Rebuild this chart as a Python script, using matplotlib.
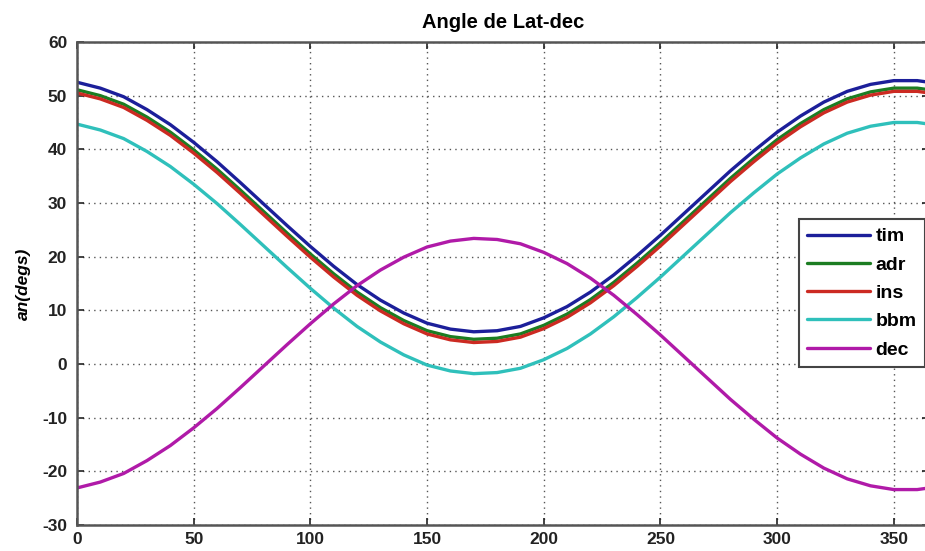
import matplotlib
matplotlib.use("Agg")
import matplotlib.pyplot as plt

# Day of year
days = [0, 10, 20, 30, 40, 50, 60, 70, 80, 90, 100, 110, 120, 130, 140, 150,
        160, 170, 180, 190, 200, 210, 220, 230, 240, 250, 260, 270, 280, 290,
        300, 310, 320, 330, 340, 350, 360, 365]

# Angles (degrees)
tim = [52.5, 51.4, 49.8, 47.4, 44.6, 41.3, 37.7, 33.8, 29.8, 25.8, 21.9, 18.2,
       14.8, 11.9, 9.5, 7.6, 6.5, 6.0, 6.2, 7.0, 8.6, 10.7, 13.4, 16.6, 20.2,
       24.0, 28.0, 32.0, 36.0, 39.7, 43.2, 46.2, 48.8, 50.8, 52.1, 52.8, 52.8, 52.5]
adr = [51.1, 50.0, 48.4, 46.0, 43.2, 39.9, 36.3, 32.4, 28.4, 24.4, 20.5, 16.8,
       13.4, 10.5, 8.1, 6.2, 5.1, 4.6, 4.8, 5.6, 7.2, 9.3, 12.0, 15.2, 18.8,
       22.6, 26.6, 30.6, 34.6, 38.3, 41.8, 44.8, 47.4, 49.4, 50.7, 51.4, 51.4, 51.1]
ins = [50.5, 49.4, 47.8, 45.4, 42.6, 39.3, 35.7, 31.8, 27.8, 23.8, 19.9, 16.2,
       12.8, 9.9, 7.5, 5.6, 4.5, 4.0, 4.2, 5.0, 6.6, 8.7, 11.4, 14.6, 18.2,
       22.0, 26.0, 30.0, 34.0, 37.7, 41.2, 44.2, 46.8, 48.8, 50.1, 50.8, 50.8, 50.5]
bbm = [44.7, 43.6, 42.0, 39.6, 36.8, 33.5, 29.9, 26.0, 22.0, 18.0, 14.1, 10.4,
       7.0, 4.1, 1.7, -0.2, -1.3, -1.8, -1.6, -0.8, 0.8, 2.9, 5.6, 8.8, 12.4,
       16.2, 20.2, 24.2, 28.2, 31.9, 35.4, 38.4, 41.0, 43.0, 44.3, 45.0, 45.0, 44.7]
dec = [-23.1, -22.0, -20.4, -18.0, -15.2, -11.9, -8.3, -4.4, -0.4, 3.6, 7.5,
       11.2, 14.6, 17.5, 19.9, 21.8, 22.9, 23.4, 23.2, 22.4, 20.8, 18.7, 16.0,
       12.8, 9.2, 5.4, 1.4, -2.6, -6.6, -10.3, -13.8, -16.8, -19.4, -21.4,
       -22.7, -23.4, -23.4, -23.1]

series_names = ["tim", "adr", "ins", "bbm", "dec"]
series_values = [tim, adr, ins, bbm, dec]
colors = ["#1c1f9a", "#1c7d22", "#cc2a22", "#2fc0bb", "#b01aa8"]

x_ticks = [0, 50, 100, 150, 200, 250, 300, 350]
y_ticks = [-30, -20, -10, 0, 10, 20, 30, 40, 50, 60]

plt.rcParams["font.family"] = ["Liberation Sans", "DejaVu Sans"]
plt.rcParams["font.weight"] = "bold"
plt.rcParams["axes.unicode_minus"] = False

fig = plt.figure(figsize=(9.25, 5.51), dpi=100)
ax = fig.add_axes([0.0832, 0.0472, 0.921, 0.8766])

for name, vals, c in zip(series_names, series_values, colors):
    ax.plot(days, vals, color=c, lw=2.4, label=name, solid_capstyle="round")

ax.set_xlim(0, 365)
ax.set_ylim(-30, 60)
ax.set_xticks(x_ticks)
ax.set_yticks(y_ticks)
ax.tick_params(direction="in", length=5, width=1.2, top=True, right=True,
               labelsize=12.5, colors="#222222")
ax.tick_params(axis="x", pad=5)
ax.tick_params(axis="y", pad=7)
for lab in ax.get_xticklabels() + ax.get_yticklabels():
    lab.set_fontweight("bold")
ax.grid(True, linestyle=(0, (1, 3)), color="#555555", linewidth=1.0)
for sp in ax.spines.values():
    sp.set_color("#555555")
    sp.set_linewidth(1.8)

ax.set_title("Angle de Lat-dec", fontsize=14.5, fontweight="bold", pad=10)
ax.set_ylabel("an(degs)", fontsize=12.5, fontstyle="italic", fontweight="bold",
              labelpad=8)

leg = ax.legend(loc="upper left", bbox_to_anchor=(0.847, 0.6335),
                borderaxespad=0, fontsize=14, handlelength=3.2,
                handletextpad=0.3, labelspacing=0.55, fancybox=False,
                framealpha=1, edgecolor="#444444", borderpad=0.45)
leg.get_frame().set_linewidth(1.5)
for t in leg.get_texts():
    t.set_fontweight("bold")

fig.savefig("out.png", dpi=100)
